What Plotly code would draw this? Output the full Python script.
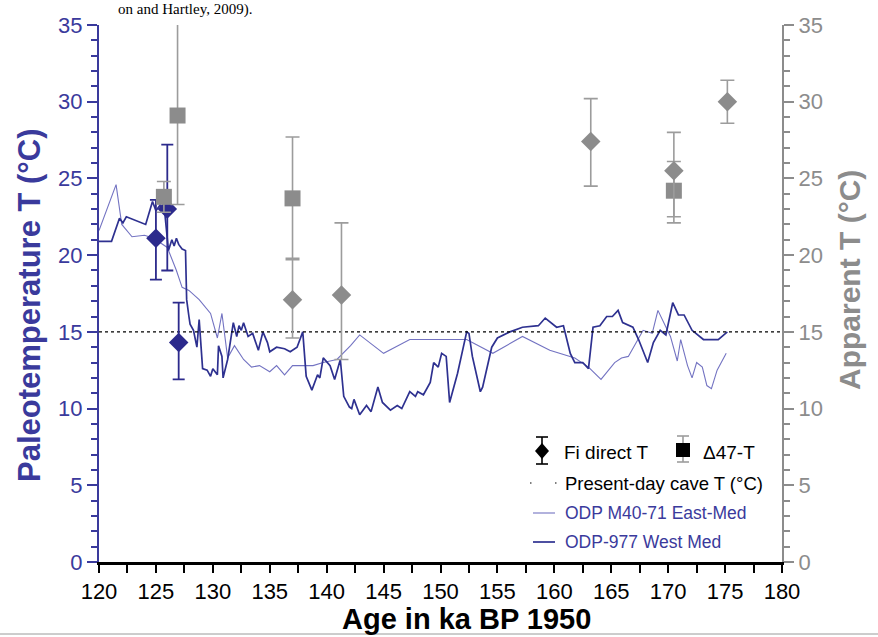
import plotly.graph_objects as go

# ---------------- data ----------------
age_westmed = [120.0, 121.1, 121.8, 122.1, 122.4, 124.1, 124.7, 125.0, 125.4, 125.8, 126.1, 126.4,
               126.6, 126.8, 127.0, 127.3, 127.6, 127.7, 127.9, 128.0, 128.3, 128.6, 128.8, 129.0,
               129.1, 129.5, 129.8, 130.0, 130.4, 130.5, 130.8, 130.9, 131.3, 131.8, 132.1, 132.3,
               132.5, 132.7, 133.1, 133.5, 134.0, 134.4, 134.8, 135.0, 135.6, 136.3, 136.8, 137.4,
               137.9, 138.2, 138.7, 139.2, 139.4, 139.7, 140.3, 140.7, 141.2, 141.5, 142.0, 142.2,
               142.4, 142.9, 143.5, 143.9, 144.5, 144.9, 145.6, 146.2, 146.6, 147.3, 147.8, 148.0,
               148.5, 149.1, 149.4, 149.8, 150.1, 150.5, 150.8, 151.5, 152.0, 152.3, 152.5, 152.8,
               153.5, 153.7, 154.5, 155.0, 156.1, 157.2, 158.6, 159.2, 160.2, 160.8, 161.4, 161.8,
               162.5, 163.0, 163.4, 164.0, 164.6, 165.1, 165.6, 166.0, 166.9, 167.4, 168.2, 168.7,
               169.3, 169.8, 170.4, 170.9, 171.4, 172.1, 173.1, 174.4, 175.2]
t_westmed = [20.9, 20.9, 22.4, 22.1, 22.5, 22.0, 23.5, 22.9, 23.3, 22.6, 20.3, 21.0,
             20.6, 21.1, 20.7, 20.4, 20.3, 17.1, 16.0, 15.5, 15.1, 14.0, 15.8, 13.2,
             12.6, 12.5, 12.1, 12.6, 12.2, 14.1, 13.4, 12.0, 13.2, 15.6, 14.7, 15.4,
             15.1, 15.6, 14.7, 14.9, 13.8, 15.0, 14.3, 13.7, 14.0, 13.9, 13.7, 14.0,
             15.0, 12.1, 11.2, 12.2, 12.0, 13.3, 12.8, 11.9, 13.2, 10.8, 10.1, 10.0,
             10.6, 9.6, 10.2, 9.8, 11.4, 10.4, 9.9, 10.2, 10.0, 11.1, 10.8, 11.1,
             10.9, 11.7, 13.0, 12.7, 13.6, 13.4, 10.4, 12.3, 14.0, 15.0, 14.9, 13.4,
             11.1, 11.4, 14.0, 14.6, 15.0, 15.3, 15.4, 15.9, 15.3, 15.4, 13.6, 13.0,
             13.0, 12.6, 15.3, 15.4, 16.0, 16.0, 16.4, 15.6, 15.3, 14.5, 13.0, 14.3,
             15.1, 14.8, 16.9, 16.1, 16.1, 15.1, 14.5, 14.5, 15.0]

age_eastmed = [120.0, 121.5, 122.0, 122.9, 124.0, 124.8, 126.0, 126.8, 127.3, 127.9, 128.8, 129.8,
               130.4, 130.8, 131.3, 131.9, 132.7, 133.4, 134.1, 135.0, 135.6, 136.3, 137.0, 138.8,
               139.7, 140.9, 142.1, 142.9, 145.0, 147.3, 152.3, 154.6, 157.2, 159.6, 161.8, 163.0,
               164.1, 165.3, 165.9, 166.5, 167.8, 168.6, 169.1, 169.9, 170.2, 170.8, 171.1, 171.7,
               172.1, 172.5, 173.0, 173.4, 173.8, 174.3, 175.1]
t_eastmed = [21.6, 24.6, 22.0, 21.2, 21.3, 21.1, 20.5, 19.0, 17.9, 17.7, 17.1, 16.2,
             14.6, 16.2, 13.3, 14.1, 13.2, 12.7, 12.8, 12.4, 12.8, 12.2, 12.8, 12.8,
             13.0, 13.2, 14.1, 14.8, 13.6, 14.5, 14.5, 13.6, 14.7, 13.8, 13.3, 12.7,
             11.9, 13.0, 13.3, 13.4, 15.1, 14.9, 16.4, 15.1, 14.7, 13.1, 14.5, 12.8,
             12.0, 13.0, 12.7, 11.5, 11.3, 12.5, 13.6]

fi_age = [125.0, 126.0, 127.0]
fi_t = [21.1, 23.0, 14.3]
fi_err_plus = [2.5, 4.2, 2.6]
fi_err_minus = [2.7, 4.0, 2.4]

fi_app_age = [137.0, 141.3, 163.2, 170.5, 175.2]
fi_app_t = [17.1, 17.4, 27.4, 25.5, 30.0]
fi_app_err_plus = [2.7, 4.7, 2.8, 2.5, 1.4]
fi_app_err_minus = [2.5, 4.2, 2.9, 3.0, 1.4]

d47_age = [125.7, 126.9, 137.0, 170.5]
d47_t = [23.8, 29.1, 23.7, 24.2]
d47_err_plus = [1.0, 6.0, 4.0, 1.9]
d47_err_minus = [1.0, 5.8, 4.0, 2.1]

cave_age = [120, 180]
cave_t = [15, 15]

# ---------------- styles ----------------
BLUE_AX = "#3a3a9c"
BLUE_DARK = "#2e3190"
BLUE_LIGHT = "#7373c2"
BLUE_MK = "#2c2a8c"
GRAY = "#8c8c8c"
GRAY_ERR = "#9c9c9c"
FONT = "Liberation Sans, Arial, sans-serif"

W, H = 878, 637
L, R, T, B = 99, 782, 25, 562


def px(x):
    return (x - L) / (R - L)


def py(y):
    return (B - y) / (B - T)


fig = go.Figure()

fig.add_trace(go.Scatter(x=age_eastmed, y=t_eastmed, mode="lines",
                         line=dict(color=BLUE_LIGHT, width=1.1), showlegend=False))
fig.add_trace(go.Scatter(x=age_westmed, y=t_westmed, mode="lines",
                         line=dict(color=BLUE_DARK, width=1.7), showlegend=False))
fig.add_trace(go.Scatter(x=cave_age, y=cave_t, mode="lines",
                         line=dict(color="black", width=1.4, dash="dot"), showlegend=False))

fig.add_trace(go.Scatter(x=d47_age, y=d47_t, mode="markers", yaxis="y2",
                         marker=dict(symbol="square", size=16, color=GRAY),
                         error_y=dict(type="data", array=d47_err_plus, arrayminus=d47_err_minus,
                                      color=GRAY_ERR, thickness=1.6, width=7),
                         showlegend=False))
fig.add_trace(go.Scatter(x=fi_app_age, y=fi_app_t, mode="markers", yaxis="y2",
                         marker=dict(symbol="diamond", size=15, color=GRAY),
                         error_y=dict(type="data", array=fi_app_err_plus, arrayminus=fi_app_err_minus,
                                      color=GRAY_ERR, thickness=1.6, width=7),
                         showlegend=False))
fig.add_trace(go.Scatter(x=fi_age, y=fi_t, mode="markers",
                         marker=dict(symbol="diamond", size=15, color=BLUE_MK),
                         error_y=dict(type="data", array=fi_err_plus, arrayminus=fi_err_minus,
                                      color=BLUE_MK, thickness=1.8, width=6),
                         showlegend=False))

shapes = []
annotations = []

# ---- legend (drawn manually) ----
lx, ly = 542, 451
shapes.append(dict(type="line", xref="paper", yref="paper", x0=px(lx), x1=px(lx), y0=py(437), y1=py(464),
                   line=dict(color="black", width=1.6)))
for yy in (437, 464):
    shapes.append(dict(type="line", xref="paper", yref="paper", x0=px(lx - 6), x1=px(lx + 6), y0=py(yy), y1=py(yy),
                       line=dict(color="black", width=1.6)))
shapes.append(dict(type="path", xref="paper", yref="paper",
                   path=f"M {px(lx-7)},{py(ly)} L {px(lx)},{py(ly-8)} L {px(lx+7)},{py(ly)} L {px(lx)},{py(ly+8)} Z",
                   fillcolor="black", line=dict(color="black", width=0)))
annotations.append(dict(text="Fi direct T", x=px(562), y=py(452), xref="paper", yref="paper",
                        xanchor="left", yanchor="middle", showarrow=False,
                        font=dict(family=FONT, size=19, color="black")))
sx = 683
shapes.append(dict(type="line", xref="paper", yref="paper", x0=px(sx), x1=px(sx), y0=py(436), y1=py(462),
                   line=dict(color=GRAY_ERR, width=1.6)))
for yy in (436, 462):
    shapes.append(dict(type="line", xref="paper", yref="paper", x0=px(sx - 6), x1=px(sx + 6), y0=py(yy), y1=py(yy),
                       line=dict(color=GRAY_ERR, width=1.6)))
shapes.append(dict(type="rect", xref="paper", yref="paper", x0=px(sx - 7), x1=px(sx + 7), y0=py(443), y1=py(457),
                   fillcolor="black", line=dict(width=0)))
annotations.append(dict(text="Δ47-T", x=px(701), y=py(452), xref="paper", yref="paper",
                        xanchor="left", yanchor="middle", showarrow=False,
                        font=dict(family=FONT, size=19, color="black")))
for dx in (530, 555):
    shapes.append(dict(type="line", xref="paper", yref="paper", x0=px(dx), x1=px(dx + 1.5), y0=py(483), y1=py(483),
                       line=dict(color="#555555", width=1.4)))
annotations.append(dict(text="Present-day cave T (°C)", x=px(563), y=py(483), xref="paper", yref="paper",
                        xanchor="left", yanchor="middle", showarrow=False,
                        font=dict(family=FONT, size=18.5, color="black")))
shapes.append(dict(type="line", xref="paper", yref="paper", x0=px(533), x1=px(555), y0=py(513), y1=py(513),
                   line=dict(color=BLUE_LIGHT, width=1.1)))
annotations.append(dict(text="ODP M40-71 East-Med", x=px(563), y=py(513), xref="paper", yref="paper",
                        xanchor="left", yanchor="middle", showarrow=False,
                        font=dict(family=FONT, size=17.5, color=BLUE_AX)))
shapes.append(dict(type="line", xref="paper", yref="paper", x0=px(533), x1=px(555), y0=py(542), y1=py(542),
                   line=dict(color=BLUE_DARK, width=1.7)))
annotations.append(dict(text="ODP-977 West Med", x=px(563), y=py(542), xref="paper", yref="paper",
                        xanchor="left", yanchor="middle", showarrow=False,
                        font=dict(family=FONT, size=17.5, color=BLUE_AX)))

# ---- axis titles ----
annotations.append(dict(text="<b>Paleotemperature T (°C)</b>", x=px(29), y=py(306), xref="paper", yref="paper",
                        xanchor="center", yanchor="middle", textangle=-90, showarrow=False,
                        font=dict(family=FONT, size=31, color=BLUE_AX)))
annotations.append(dict(text="<b>Apparent T (°C)</b>", x=px(849), y=py(280), xref="paper", yref="paper",
                        xanchor="center", yanchor="middle", textangle=-90, showarrow=False,
                        font=dict(family=FONT, size=30, color=GRAY)))
annotations.append(dict(text="<b>Age in ka BP 1950</b>", x=px(466), y=py(619), xref="paper", yref="paper",
                        xanchor="center", yanchor="middle", showarrow=False,
                        font=dict(family=FONT, size=29, color="black")))

# ---- surrounding document text at the top ----
annotations.append(dict(text="on and Hartley, 2009).", x=px(253), y=py(0), xref="paper", yref="paper",
                        xanchor="right", yanchor="top", showarrow=False, borderpad=0,
                        font=dict(family="Liberation Serif, Times New Roman, serif", size=15, color="black")))
shapes.append(dict(type="line", xref="paper", yref="paper", x0=px(0), x1=px(W), y0=py(634), y1=py(634),
                   line=dict(color="#9a9a9a", width=1)))

fig.update_layout(
    width=W, height=H,
    margin=dict(l=L, r=W - R, t=T, b=H - B, pad=0),
    paper_bgcolor="white", plot_bgcolor="white",
    showlegend=False,
    font=dict(family=FONT),
    xaxis=dict(range=[120, 180], tickvals=list(range(120, 181, 5)), ticks="outside", ticklen=8,
               tickwidth=2, tickcolor="black", showline=True, linecolor="black", linewidth=2.5,
               showgrid=False, zeroline=False, tickfont=dict(family=FONT, size=22, color="black"),
               minor=dict(tick0=120, dtick=2.5, ticks="outside", ticklen=8, tickwidth=2, tickcolor="black")),
    yaxis=dict(range=[0, 35], tick0=0, dtick=5, ticks="outside", ticklen=10, tickwidth=2,
               tickcolor=BLUE_AX, showline=True, linecolor=BLUE_AX, linewidth=2,
               showgrid=False, zeroline=False, tickfont=dict(family=FONT, size=22, color=BLUE_AX),
               minor=dict(tick0=0, dtick=1, ticks="outside", ticklen=6, tickwidth=1.5, tickcolor=BLUE_AX)),
    yaxis2=dict(range=[0, 35], tick0=0, dtick=5, overlaying="y", side="right", ticks="outside",
                ticklen=10, tickwidth=2, tickcolor=GRAY, showline=True, linecolor=GRAY, linewidth=2,
                showgrid=False, zeroline=False, tickfont=dict(family=FONT, size=22, color=GRAY),
                minor=dict(tick0=0, dtick=1, ticks="outside", ticklen=6, tickwidth=1.5, tickcolor=GRAY)),
    shapes=shapes,
    annotations=annotations,
)

fig.write_html("out.html")
